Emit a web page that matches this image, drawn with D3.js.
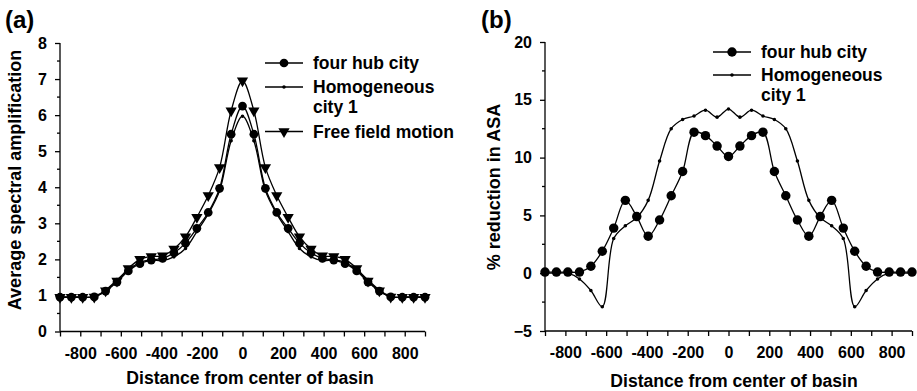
<!DOCTYPE html>
<html lang="en">
<head>
    <meta charset="UTF-8">
    <title>Basin amplification</title>
    <script src="https://cdn.jsdelivr.net/npm/d3@7"></script>
    <style>
        html, body {
            margin: 0;
            background: white;
        }
        svg text {
            font-family: "Liberation Sans", Arial, sans-serif;
            font-weight: bold;
            fill: black;
        }
        .axis path, .axis line {
            stroke: black;
            stroke-width: 1.3px;
        }
    </style>
</head>
<body>
    <div id="vis"></div>
    <script>

        // distance from center of basin (m)
        var distance = [-900, -844, -788, -731, -675, -619, -563, -506, -450, -394, -338, -281, -225, -169, -113, -56, 0,
                        56, 113, 169, 225, 281, 338, 394, 450, 506, 563, 619, 675, 731, 788, 844, 900];

        // panel (a): average spectral amplification
        var fourHubA = [0.95, 0.95, 0.95, 0.96, 1.12, 1.37, 1.68, 1.88, 1.98, 2.03, 2.18, 2.45, 2.86, 3.30, 3.97, 5.47, 6.25,
                        5.47, 3.97, 3.30, 2.86, 2.45, 2.18, 2.03, 1.98, 1.88, 1.68, 1.37, 1.12, 0.96, 0.95, 0.95, 0.95];
        var homogA = [0.95, 0.95, 0.95, 0.96, 1.15, 1.43, 1.70, 1.92, 1.98, 1.97, 2.07, 2.30, 2.77, 3.26, 3.90, 5.29, 5.97,
                      5.29, 3.90, 3.26, 2.77, 2.30, 2.07, 1.97, 1.98, 1.92, 1.70, 1.43, 1.15, 0.96, 0.95, 0.95, 0.95];
        var freeFieldA = [0.95, 0.95, 0.95, 0.96, 1.13, 1.40, 1.75, 2.00, 2.08, 2.10, 2.29, 2.63, 3.17, 3.77, 4.55, 6.12, 6.95,
                          6.12, 4.55, 3.77, 3.17, 2.63, 2.29, 2.10, 2.08, 2.00, 1.75, 1.40, 1.13, 0.96, 0.95, 0.95, 0.95];

        // panel (b): % reduction in ASA
        var fourHubB = [0.1, 0.1, 0.1, 0.1, 0.6, 1.9, 3.9, 6.3, 4.9, 3.2, 4.6, 6.7, 8.8, 12.2, 11.9, 11.0, 10.1,
                        11.0, 11.9, 12.2, 8.8, 6.7, 4.6, 3.2, 4.9, 6.3, 3.9, 1.9, 0.6, 0.1, 0.1, 0.1, 0.1];
        var homogB = [0, 0, 0, -0.5, -1.5, -2.9, 3.0, 4.1, 4.8, 6.3, 9.7, 12.5, 13.3, 13.6, 14.1, 13.5, 14.2,
                      13.5, 14.1, 13.6, 13.3, 12.5, 9.7, 6.3, 4.8, 4.1, 3.0, -2.9, -1.5, -0.5, 0, 0, 0];

        var xTicks = [-900, -800, -700, -600, -500, -400, -300, -200, -100, 0, 100, 200, 300, 400, 500, 600, 700, 800, 900];
        var xLabels = [-800, -600, -400, -200, 0, 200, 400, 600, 800];

        var width = 917,
            height = 391;

        var svg = d3.select('#vis')
                    .append('svg')
                        .attr('width', width)
                        .attr('height', height);

        function drawPanel(p) {
            var g = svg.append('g');

            var x = d3.scaleLinear().domain([-900, 900]).range(p.xRange);
            var y = d3.scaleLinear().domain(p.yDomain).range(p.yRange);

            // x axis: ticks every 100, labels every 200
            var xAxis = d3.axisBottom(x)
                .tickValues(xTicks)
                .tickSize(5)
                .tickPadding(11)
                .tickFormat(function(d){ return xLabels.indexOf(d) >= 0 ? d : ''; });

            g.append('g')
                .attr('class', 'axis')
                .attr('transform', 'translate(0,' + p.yRange[0] + ')')
                .call(xAxis)
                .call(function(a){
                    a.select('.domain').attr('d', 'M' + p.xRange[0] + ',0H' + p.xRange[1]);
                    a.selectAll('text').style('font-size', '16px').attr('font-family', null);
                });

            // y axis: major ticks with labels, minor ticks in between
            var yAxis = d3.axisLeft(y)
                .tickValues(p.yMajor)
                .tickSize(5)
                .tickPadding(8)
                .tickFormat(d3.format('d'));

            var ya = g.append('g')
                .attr('class', 'axis')
                .attr('transform', 'translate(' + p.xRange[0] + ',0)')
                .call(yAxis);
            ya.select('.domain').attr('d', 'M0,' + p.yRange[0] + 'V' + p.yRange[1]);
            ya.selectAll('text').style('font-size', '16px').attr('font-family', null);

            ya.selectAll('.minor')
                .data(p.yMinor)
                .enter()
                .append('line')
                .attr('class', 'minor')
                .attr('x1', -3)
                .attr('x2', 0)
                .attr('y1', function(d){ return y(d); })
                .attr('y2', function(d){ return y(d); });

            // series
            var line = d3.line()
                .x(function(d, i){ return x(distance[i]); })
                .y(function(d){ return y(d); })
                .curve(d3.curveCatmullRom.alpha(0.5));

            p.series.forEach(function(s){
                g.append('path')
                    .datum(s.values)
                    .attr('fill', 'none')
                    .attr('stroke', 'black')
                    .attr('stroke-width', 1.3)
                    .attr('d', line);
            });

            p.series.forEach(function(s){
                g.selectAll(null)
                    .data(s.values)
                    .enter()
                    .append('path')
                    .attr('transform', function(d, i){
                        return 'translate(' + x(distance[i]) + ',' + y(d) + ')' + (s.symbol === 'tri' ? ' rotate(180)' : '');
                    })
                    .attr('d', marker(s.symbol, s.size))
                    .attr('fill', 'black');
            });

            // legend
            var leg = g.append('g')
                .attr('transform', 'translate(' + p.legend[0] + ',' + p.legend[1] + ')');

            p.legendRows.forEach(function(r){
                var s = p.series[r.series];
                leg.append('line')
                    .attr('x1', 0).attr('x2', 38)
                    .attr('y1', r.y).attr('y2', r.y)
                    .attr('stroke', 'black')
                    .attr('stroke-width', 1.3);
                leg.append('path')
                    .attr('transform', 'translate(19,' + r.y + ')' + (s.symbol === 'tri' ? ' rotate(180)' : ''))
                    .attr('d', marker(s.symbol, s.size))
                    .attr('fill', 'black');
                r.text.forEach(function(t, j){
                    leg.append('text')
                        .attr('x', 48)
                        .attr('y', r.y + j * 20)
                        .attr('dy', '0.35em')
                        .style('font-size', '17.5px')
                        .text(t);
                });
            });

            // panel letter and axis titles
            g.append('text')
                .attr('x', p.letter[0])
                .attr('y', p.letter[1])
                .style('font-size', '24px')
                .text(p.letterText);

            g.append('text')
                .attr('x', p.xTitle[0])
                .attr('y', p.xTitle[1])
                .attr('text-anchor', 'middle')
                .style('font-size', '17.6px')
                .text('Distance from center of basin');

            g.append('text')
                .attr('transform', 'translate(' + p.yTitle[0] + ',' + p.yTitle[1] + ') rotate(-90)')
                .attr('text-anchor', 'middle')
                .attr('dy', '0.35em')
                .style('font-size', '18px')
                .text(p.yTitleText);
        }

        function marker(sym, size) {
            if (sym === 'tri') return d3.symbol().type(d3.symbolTriangle).size(size)();
            return d3.symbol().type(d3.symbolCircle).size(size)();
        }

        drawPanel({
            xRange: [60, 425],
            yDomain: [0, 8],
            yRange: [331.5, 43],
            yMajor: [0, 1, 2, 3, 4, 5, 6, 7, 8],
            yMinor: [0.5, 1.5, 2.5, 3.5, 4.5, 5.5, 6.5, 7.5],
            series: [
                { values: homogA, symbol: 'small', size: 10 },
                { values: freeFieldA, symbol: 'tri', size: 55 },
                { values: fourHubA, symbol: 'dot', size: 60 }
            ],
            legend: [265, 0],
            legendRows: [
                { series: 2, y: 63, text: ['four hub city'] },
                { series: 0, y: 87, text: ['Homogeneous', 'city 1'] },
                { series: 1, y: 131.5, text: ['Free field motion'] }
            ],
            letter: [5, 28],
            letterText: '(a)',
            xTitle: [250, 384],
            yTitle: [15, 180],
            yTitleText: 'Average spectral amplification'
        });

        drawPanel({
            xRange: [545, 912],
            yDomain: [-5, 20],
            yRange: [331, 42],
            yMajor: [-5, 0, 5, 10, 15, 20],
            yMinor: [-2.5, 2.5, 7.5, 12.5, 17.5],
            series: [
                { values: homogB, symbol: 'small', size: 10 },
                { values: fourHubB, symbol: 'dot', size: 70 }
            ],
            legend: [713, 0],
            legendRows: [
                { series: 1, y: 52, text: ['four hub city'] },
                { series: 0, y: 75, text: ['Homogeneous', 'city 1'] }
            ],
            letter: [481, 28],
            letterText: '(b)',
            xTitle: [734, 387],
            yTitle: [494, 187],
            yTitleText: '% reduction in ASA'
        });

    </script>
</body>
</html>
